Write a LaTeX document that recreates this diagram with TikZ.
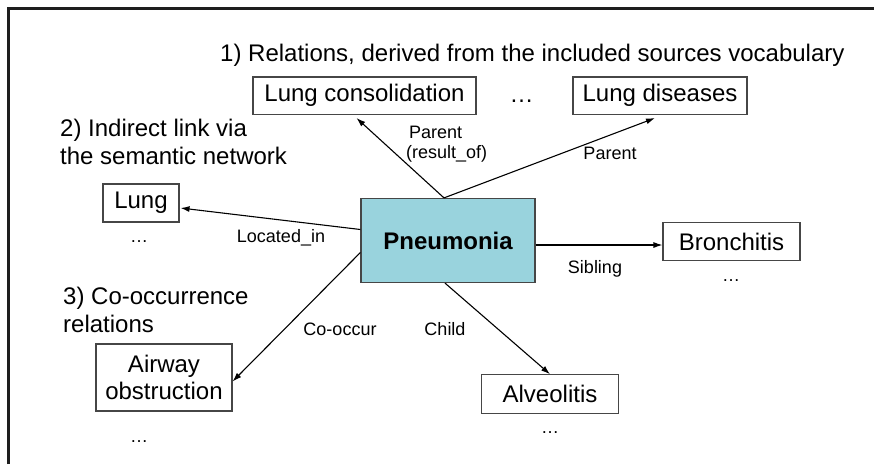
\documentclass[tikz,border=0pt]{standalone}
\usepackage{fontspec}
\setmainfont{Liberation Sans}
\usetikzlibrary{arrows.meta}
\definecolor{pnfill}{RGB}{153,211,221}
\definecolor{boxline}{RGB}{70,70,70}
\definecolor{framecol}{RGB}{30,30,30}
\begin{document}
\begin{tikzpicture}[x=1pt,y=-1pt,
  big/.style={font=\fontsize{24}{27.5}\selectfont},
  small/.style={font=\fontsize{18}{21}\selectfont},
  termbox/.style={draw=boxline,line width=1.1pt,big,inner sep=0pt,align=center},
  plain/.style={inner sep=0pt},
  rel/.style={draw=black,line width=1.1pt,-{Latex[length=9pt,width=6pt]}}]
\useasboundingbox (0,0) rectangle (874,464);
% outer frame
\draw[framecol,line width=2.5pt] (8.5,464) -- (8.5,8.5) -- (874,8.5);

% central concept
\node[draw=boxline,line width=1.2pt,fill=pnfill,minimum width=174pt,minimum height=84pt,
      font=\fontsize{24}{28}\selectfont\bfseries] (pn) at (448,240.5) {Pneumonia};

% related concepts
\node[termbox,minimum width=223pt,minimum height=37.5pt] (lc) at (364.5,95.75) {Lung consolidation};
\node[termbox,minimum width=174pt,minimum height=37.5pt] (ld) at (660,95.75) {Lung diseases};
\node[termbox,minimum width=76pt,minimum height=38pt] (lung) at (141,203) {Lung};
\node[termbox,minimum width=137pt,minimum height=38.5pt] (br) at (731.5,241.5) {Bronchitis};
\node[termbox,minimum width=136pt,minimum height=67pt] (aw) at (164,377.5) {Airway\\obstruction};
\node[termbox,minimum width=136.5pt,minimum height=38.5pt] (al) at (550,394) {Alveolitis};

% ellipses
\node[plain,big,anchor=base] (d1) at (521.5,102) {…};
\node[plain,small,anchor=base] (d2) at (139,242.5) {…};
\node[plain,small,anchor=base] (d3) at (731,281) {…};
\node[plain,small,anchor=base] (d4) at (139,442) {…};
\node[plain,small,anchor=base] (d5) at (550,433) {…};

% group headings
\node[plain,big,anchor=base west] (h1) at (220,61) {1) Relations, derived from the included sources vocabulary};
\node[plain,big,anchor=base west] (h2a) at (60,136.5) {2) Indirect link via};
\node[plain,big,anchor=base west] (h2b) at (60,164.5) {the semantic network};
\node[plain,big,anchor=base west] (h3a) at (63,304) {3) Co-occurrence};
\node[plain,big,anchor=base west] (h3b) at (63,332.5) {relations};

% relations
\draw[rel] ([xshift=-4pt]pn.north) -- ([xshift=-8pt,yshift=-3pt]lc.south);
\draw[rel] ([xshift=-4pt]pn.north) -- ([xshift=-5pt,yshift=-3pt]ld.south);
\draw[rel] ([yshift=11pt]pn.west) -- ([xshift=1pt,yshift=-5pt]lung.east);
\draw[rel] ([yshift=-4.5pt]pn.east) -- ([yshift=-3.5pt]br.west);
\draw[rel] ([yshift=-12pt]pn.west) -- ([yshift=-4pt]aw.east);
\draw[rel] ([xshift=-3pt]pn.south) -- (al.north);

% relation labels
\node[plain,small,anchor=base west] (l1a) at (409,138) {Parent};
\node[plain,small,anchor=base west] (l1b) at (406,158) {(result\_of)};
\node[plain,small,anchor=base] (l2) at (610,159) {Parent};
\node[plain,small,anchor=base] (l3) at (281,242.5) {Located\_in};
\node[plain,small,anchor=base] (l4) at (595,273) {Sibling};
\node[plain,small,anchor=base] (l5) at (340,335) {Co-occur};
\node[plain,small,anchor=base] (l6) at (445,335) {Child};
\end{tikzpicture}
\end{document}
